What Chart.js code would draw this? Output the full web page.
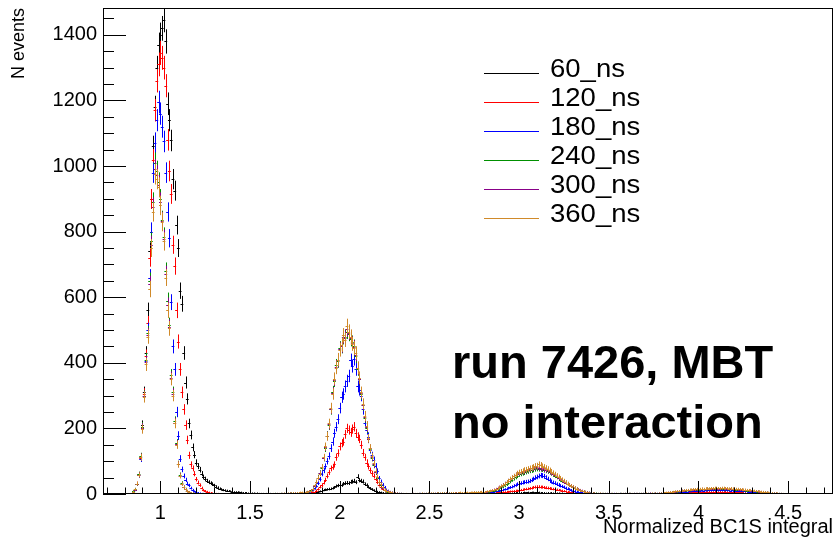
<!DOCTYPE html>
<html>
<head>
<meta charset="utf-8">
<title>BC1S integral</title>
<script src="https://cdn.jsdelivr.net/npm/chart.js@4.4.1/dist/chart.umd.min.js"></script>
<style>
  html, body { margin: 0; padding: 0; background: #fff; }
  #wrap { position: relative; width: 835px; height: 540px; }
  #legend { position: absolute; left: 484px; top: 54px; font: 25px "Liberation Sans", Arial, sans-serif; color: #000; }
  #legend .row { position: relative; height: 29px; line-height: 29px; padding-left: 66px; white-space: nowrap; }
  #legend .row i { position: absolute; left: 0; top: 19px; width: 55px; height: 1px; }
  #legend .row span { display: inline-block; transform: scaleX(1.1); transform-origin: 0 50%; }
  #note { position: absolute; left: 452px; top: 332px; font: bold 47px/60px "Liberation Sans", Arial, sans-serif; color: #000; white-space: nowrap; }
</style>
</head>
<body>
<div id="wrap">
  <canvas id="chart" width="835" height="540" style="width:835px;height:540px"></canvas>
  <div id="legend"></div>
  <div id="note">run 7426, MBT<br>no interaction</div>
</div>
<script>
// histogram bins are 0.01 wide; every series is a list of [first bin centre, counts]
const binWidth = 0.01;

const seriesNames = ['60_ns', '120_ns', '180_ns', '240_ns', '300_ns', '360_ns'];
const seriesColors = ['#000000', '#ff0000', '#0000ff', '#009000', '#880088', '#d08a2a'];

const ns60 = [
  [0.84, [3, 6, 13, 31, 60, 112, 210, 310, 430, 560, 740, 900, 1060, 1180, 1300, 1370, 1400, 1420, 1446, 1380,
          1190, 1140, 1078, 960, 925, 820, 750, 620, 580, 430, 340, 290, 215, 180, 142, 120, 96, 85, 74, 62,
          52, 46, 40, 36, 33, 30, 26, 22, 19, 16, 14, 12, 11, 10, 9, 8, 7]],
  [1.41, [6, 6, 6, 5, 5, 4, 4, 4, 3, 3, 3, 3, 2, 3, 2, 2, 2, 1, 2, 1, 2, 1, 1, 2, 1, 1, 2, 1, 1, 2, 1, 2, 1, 2, 2, 2, 3, 2, 3]],
  [1.80, [3, 2, 3, 3, 4, 4, 4, 5, 6, 8, 10, 12, 13, 14, 15, 16, 18, 20, 24, 26, 28, 27, 31, 33, 34, 33, 37, 38, 40, 36,
          53, 42, 40, 38, 30, 27, 22, 17, 14, 11, 9, 7, 6, 5, 4, 3, 3, 2, 2, 2, 2, 1, 1, 1, 1, 1, 1, 0, 1, 0, 1]],
  [2.41, [1, 0, 1, 1, 0, 1, 1, 0, 1, 1, 0, 1, 1, 1, 0, 1, 1, 1, 2, 1, 0, 1, 1, 1, 0, 1, 1, 0, 1, 1, 1, 0, 1, 1, 1, 1, 1, 2, 1]],
  [2.80, [1, 1, 1, 2, 1, 2, 2, 2, 2, 2, 2, 3, 3, 3, 3, 3, 3, 4, 4, 4, 4, 4, 4, 5, 4, 5, 4, 5, 5, 4,
          5, 5, 4, 4, 4, 3, 4, 3, 4, 3, 3, 3, 3, 2, 3, 2, 2, 2, 2, 2, 1, 2, 1, 1, 1, 1, 1, 1, 0, 1, 1, 0, 1, 0, 0]],
  [3.45, [0, 0, 1, 0, 0, 0, 1, 0, 0, 0, 0, 1, 0, 0, 0, 1, 0, 0, 0, 1, 0, 0, 1, 0, 0, 0, 1, 0, 0, 1, 0, 0, 0, 1, 0]],
  [3.80, [0, 1, 0, 0, 1, 0, 0, 1, 0, 1, 0, 1, 1, 0, 1, 1, 0, 1, 1, 1, 1, 2, 1, 1, 1, 2, 1, 1, 2, 1,
          1, 1, 2, 1, 1, 1, 1, 2, 1, 1, 1, 1, 1, 1, 0, 1, 1, 1, 0, 1, 1, 0, 1, 0, 1, 0, 0, 1, 0, 0, 1, 0, 0, 0, 1]]
];
const ns120 = [
  [0.84, [3, 7, 13, 32, 58, 110, 205, 305, 420, 520, 720, 900, 1020, 1170, 1260, 1310, 1345, 1330, 1300, 1245,
          1080, 985, 915, 760, 695, 560, 465, 380, 310, 258, 210, 165, 118, 90, 78, 62, 45, 35, 27, 18,
          12, 9, 7, 5, 4, 3, 3, 2, 2, 1, 1, 1, 0, 1, 0, 1, 0]],
  [1.41, [1, 1, 1, 0, 1, 1, 0, 1, 0, 1, 0, 0, 1, 0, 1, 0, 0, 1, 0, 1, 0, 1, 1, 0, 1, 0, 1, 1, 0, 1, 1, 1, 1, 2, 1, 2, 2, 2, 2]],
  [1.80, [2, 2, 3, 3, 4, 5, 7, 10, 14, 22, 26, 35, 43, 55, 66, 78, 83, 90, 112, 125, 145, 155, 160, 182, 200, 195, 188, 198, 205, 185,
          175, 168, 150, 126, 112, 96, 84, 72, 63, 55, 46, 36, 28, 20, 15, 11, 8, 6, 4, 3, 3, 2, 2, 1, 1, 1, 1, 0, 1, 0, 1]],
  [2.41, [1, 1, 0, 1, 1, 1, 1, 2, 1, 1, 2, 1, 2, 2, 2, 1, 2, 2, 3, 2, 2, 2, 3, 2, 3, 2, 3, 3, 2, 3, 3, 3, 2, 3, 3, 3, 3, 4, 3]],
  [2.80, [3, 3, 3, 3, 3, 4, 4, 4, 5, 5, 5, 6, 6, 7, 7, 8, 8, 9, 10, 10, 11, 12, 13, 14, 15, 16, 17, 18, 20, 21,
          22, 22, 21, 21, 20, 19, 18, 17, 16, 15, 14, 13, 12, 11, 10, 9, 8, 7, 6, 5, 5, 4, 4, 3, 3, 3, 2, 2, 2, 2, 1, 1, 1, 1, 1]],
  [3.45, [1, 0, 0, 1, 0, 1, 0, 1, 1, 0, 1, 1, 1, 0, 1, 1, 1, 0, 1, 1, 1, 0, 1, 1, 1, 1, 0, 1, 1, 1, 1, 1, 1, 1, 1]],
  [3.80, [1, 1, 1, 2, 2, 2, 2, 3, 3, 3, 3, 4, 4, 4, 4, 5, 5, 5, 5, 5, 6, 5, 6, 6, 6, 6, 7, 6, 6, 7,
          7, 6, 7, 6, 6, 7, 6, 6, 6, 5, 6, 5, 5, 5, 5, 4, 4, 4, 4, 3, 3, 3, 3, 2, 2, 2, 2, 2, 1, 1, 1, 1, 1, 1, 1, 0, 1, 0, 0, 1]]
];
const ns180 = [
  [0.84, [3, 6, 12, 30, 57, 108, 200, 300, 405, 500, 660, 800, 980, 1070, 1140, 1195, 1160, 1120, 1075, 980,
          860, 780, 585, 450, 380, 250, 178, 108, 75, 55, 43, 32, 26, 18, 12, 8, 6, 4, 3, 2,
          2, 1, 1, 0, 1, 0, 1, 0, 0, 1, 0, 0, 1, 0, 0, 0, 1]],
  [1.41, [1, 1, 0, 1, 0, 0, 1, 0, 1, 0, 0, 1, 0, 1, 0, 0, 1, 0, 1, 1, 0, 1, 1, 0, 1, 1, 1, 1, 2, 1, 1, 2, 2, 2, 2, 3, 2, 3, 3]],
  [1.80, [3, 4, 5, 7, 9, 12, 17, 24, 33, 45, 62, 72, 84, 100, 116, 140, 160, 185, 205, 228, 262, 295, 305, 328, 345, 360, 408, 390, 412, 380,
          328, 318, 300, 258, 218, 195, 175, 135, 118, 104, 85, 70, 48, 38, 28, 20, 13, 10, 7, 5, 4, 3, 3, 2, 2, 1, 1, 1, 1, 0, 1]],
  [2.41, [1, 1, 1, 1, 2, 1, 1, 2, 1, 2, 1, 2, 2, 1, 2, 2, 2, 3, 2, 2, 3, 2, 3, 3, 2, 3, 3, 3, 3, 3, 4, 3, 3, 4, 3, 4, 4, 4, 4]],
  [2.80, [4, 4, 5, 5, 6, 6, 7, 8, 9, 10, 11, 13, 14, 16, 18, 20, 22, 25, 27, 30, 32, 33, 35, 36, 37, 38, 40, 43, 46, 50,
          52, 55, 57, 56, 54, 50, 46, 42, 38, 35, 33, 30, 28, 25, 23, 21, 18, 16, 14, 12, 10, 9, 7, 6, 5, 5, 4, 4, 3, 3, 3, 2, 2, 2, 1]],
  [3.45, [2, 1, 1, 1, 2, 1, 1, 1, 2, 1, 1, 2, 1, 1, 2, 1, 2, 1, 1, 2, 1, 1, 2, 1, 2, 2, 1, 2, 2, 1, 2, 2, 2, 2, 2]],
  [3.80, [2, 2, 3, 3, 3, 4, 4, 5, 5, 5, 6, 6, 7, 7, 7, 8, 8, 9, 9, 10, 10, 10, 11, 10, 11, 11, 12, 11, 12, 12,
          12, 11, 12, 12, 11, 12, 11, 11, 10, 11, 10, 10, 10, 9, 9, 8, 8, 8, 7, 7, 6, 6, 5, 5, 5, 4, 4, 3, 3, 3, 2, 2, 2, 2, 1, 1, 1, 1, 1, 0, 1]]
];
const ns240 = [
  [0.84, [2, 8, 15, 30, 60, 115, 205, 300, 410, 490, 650, 770, 890, 1010, 985, 950, 900, 835, 785, 680,
          590, 515, 362, 310, 222, 155, 92, 58, 33, 22, 15, 9, 6, 4, 3, 2, 1, 1, 1, 0,
          0, 1, 0, 0, 1, 0, 0, 0, 1, 0, 0, 0, 1, 0, 0, 0, 0]],
  [1.41, [0, 1, 0, 0, 1, 0, 0, 1, 0, 1, 0, 1, 0, 1, 1, 0, 1, 1, 1, 0, 1, 1, 1, 2, 1, 1, 2, 1, 2, 2, 2, 2, 3, 2, 3, 3, 3, 4, 4]],
  [1.80, [4, 5, 7, 8, 11, 16, 24, 36, 50, 64, 80, 110, 140, 178, 210, 258, 312, 345, 392, 405, 445, 450, 478, 480, 495, 488, 472, 462, 450, 420,
          380, 350, 305, 270, 232, 200, 168, 138, 110, 88, 66, 50, 36, 28, 19, 13, 10, 7, 6, 4, 4, 3, 2, 2, 2, 1, 1, 1, 1, 1, 1]],
  [2.41, [1, 1, 1, 2, 1, 2, 1, 2, 2, 1, 2, 2, 2, 2, 3, 2, 2, 3, 2, 3, 3, 3, 3, 2, 3, 3, 4, 3, 3, 4, 4, 3, 4, 4, 4, 5, 4, 5, 5]],
  [2.80, [5, 5, 6, 7, 8, 9, 10, 12, 14, 17, 20, 23, 26, 30, 34, 39, 44, 48, 52, 56, 60, 62, 64, 66, 68, 70, 72, 73, 75, 77,
          78, 77, 77, 76, 74, 72, 70, 67, 64, 60, 56, 52, 48, 44, 41, 37, 34, 30, 27, 24, 21, 18, 16, 13, 11, 9, 8, 7, 6, 5, 4, 4, 3, 3, 2]],
  [3.45, [2, 1, 2, 2, 1, 2, 1, 2, 1, 2, 1, 2, 2, 1, 2, 1, 2, 2, 1, 2, 2, 1, 2, 2, 2, 2, 1, 2, 2, 2, 2, 3, 2, 2, 3]],
  [3.80, [3, 3, 4, 4, 5, 5, 6, 7, 7, 8, 8, 9, 10, 10, 11, 11, 12, 12, 13, 13, 13, 14, 14, 14, 15, 15, 15, 16, 15, 16,
          16, 15, 16, 16, 15, 15, 15, 14, 15, 14, 14, 13, 13, 12, 12, 11, 11, 10, 10, 9, 9, 8, 8, 7, 7, 6, 6, 5, 5, 4, 4, 3, 3, 3, 2, 2, 2, 1, 1, 1, 1]]
];
const ns300 = [
  [0.84, [3, 7, 13, 31, 59, 113, 202, 298, 402, 485, 640, 760, 875, 990, 972, 942, 890, 832, 778, 670,
          575, 510, 355, 305, 218, 152, 91, 56, 31, 21, 14, 9, 6, 4, 3, 2, 1, 1, 0, 1,
          0, 0, 1, 0, 0, 0, 1, 0, 0, 0, 1, 0, 0, 0, 0, 1, 0]],
  [1.41, [1, 0, 0, 1, 0, 1, 0, 0, 1, 0, 1, 1, 0, 1, 0, 1, 1, 0, 1, 1, 1, 0, 1, 1, 2, 1, 1, 2, 1, 2, 2, 3, 2, 2, 3, 3, 4, 3, 4]],
  [1.80, [4, 5, 6, 9, 10, 15, 25, 37, 49, 63, 81, 111, 143, 177, 212, 260, 308, 348, 388, 408, 442, 452, 480, 476, 502, 492, 476, 460, 448, 425,
          383, 352, 308, 272, 235, 204, 169, 139, 112, 90, 68, 51, 37, 29, 19, 13, 10, 8, 6, 5, 4, 3, 3, 2, 2, 1, 1, 1, 1, 1, 1]],
  [2.41, [2, 1, 1, 2, 1, 2, 2, 1, 2, 2, 2, 1, 2, 3, 2, 2, 3, 2, 3, 3, 2, 3, 3, 3, 4, 3, 3, 4, 3, 4, 4, 4, 3, 4, 5, 4, 5, 5, 6]],
  [2.80, [6, 6, 7, 8, 9, 11, 13, 15, 18, 21, 24, 28, 32, 36, 40, 45, 50, 54, 58, 62, 64, 66, 68, 70, 72, 74, 76, 78, 80, 81,
          82, 80, 80, 78, 76, 74, 72, 69, 65, 62, 58, 54, 50, 46, 42, 38, 35, 31, 28, 25, 22, 19, 16, 14, 12, 10, 8, 7, 6, 5, 4, 3, 3, 2, 2]],
  [3.45, [2, 2, 1, 2, 2, 1, 2, 1, 2, 2, 1, 2, 1, 2, 2, 1, 2, 2, 1, 2, 2, 2, 1, 2, 2, 2, 2, 2, 3, 2, 2, 3, 2, 3, 3]],
  [3.80, [3, 3, 4, 5, 5, 6, 6, 7, 8, 8, 9, 10, 10, 11, 11, 12, 12, 13, 13, 14, 14, 14, 15, 14, 15, 16, 15, 16, 16, 17,
          17, 16, 16, 17, 17, 16, 16, 15, 16, 15, 15, 14, 14, 13, 13, 12, 12, 11, 11, 10, 10, 9, 8, 8, 7, 7, 6, 5, 5, 4, 4, 3, 3, 3, 2, 2, 2, 1, 1, 1, 1]]
];
const ns360 = [
  [0.84, [3, 7, 14, 32, 58, 112, 198, 296, 395, 480, 625, 750, 860, 975, 960, 935, 880, 830, 770, 660,
          560, 505, 350, 300, 215, 150, 90, 55, 30, 22, 14, 10, 6, 4, 3, 2, 2, 1, 1, 0,
          1, 0, 0, 0, 1, 0, 0, 1, 0, 0, 0, 0, 1, 0, 0, 0, 0]],
  [1.41, [0, 1, 1, 0, 1, 0, 1, 1, 0, 1, 1, 0, 1, 1, 1, 0, 1, 1, 1, 2, 1, 1, 2, 1, 2, 2, 2, 2, 3, 2, 3, 3, 3, 4, 3, 4, 4, 5, 5]],
  [1.80, [4, 5, 6, 8, 10, 15, 26, 38, 48, 62, 82, 112, 145, 176, 215, 262, 305, 352, 385, 410, 440, 455, 484, 470, 512, 495, 480, 458, 445, 430,
          385, 355, 310, 275, 238, 208, 170, 140, 115, 94, 70, 52, 38, 30, 20, 13, 10, 8, 6, 5, 4, 3, 3, 2, 2, 2, 1, 2, 1, 1, 1]],
  [2.41, [2, 2, 2, 1, 2, 3, 2, 2, 3, 2, 3, 3, 2, 3, 3, 3, 4, 3, 3, 4, 3, 4, 4, 4, 3, 4, 5, 4, 4, 5, 5, 4, 5, 5, 6, 5, 6, 6, 7]],
  [2.80, [7, 6, 8, 9, 10, 11, 12, 14, 16, 20, 24, 27, 30, 36, 40, 46, 50, 54, 58, 63, 66, 68, 70, 73, 74, 76, 78, 80, 82, 85,
          86, 90, 88, 84, 82, 79, 76, 72, 68, 64, 60, 56, 52, 48, 44, 40, 36, 32, 28, 25, 22, 19, 16, 13, 11, 9, 8, 6, 5, 4, 4, 3, 3, 2, 2]],
  [3.45, [3, 2, 2, 2, 2, 1, 2, 2, 1, 2, 2, 1, 2, 2, 2, 1, 2, 2, 2, 2, 1, 2, 2, 2, 2, 2, 3, 2, 2, 3, 2, 3, 2, 3, 3]],
  [3.80, [3, 4, 5, 5, 6, 6, 7, 8, 8, 9, 10, 10, 11, 12, 12, 13, 13, 14, 14, 15, 15, 15, 16, 15, 16, 17, 16, 17, 17, 18,
          18, 17, 17, 18, 18, 17, 17, 16, 17, 16, 16, 15, 15, 14, 14, 13, 13, 12, 12, 11, 11, 10, 9, 8, 8, 7, 7, 6, 5, 5, 4, 4, 3, 3, 3, 2, 2, 2, 1, 1, 1]]
];

const xTicks = [1, 1.5, 2, 2.5, 3, 3.5, 4, 4.5];
const yTicks = [0, 200, 400, 600, 800, 1000, 1200, 1400];

const seriesValues = [ns60, ns120, ns180, ns240, ns300, ns360];
const fontFamily = '"Liberation Sans", Arial, Helvetica, sans-serif';

function toPoints(segments) {
    const pts = [];
    segments.forEach(([start, counts]) => {
        counts.forEach((v, i) => {
            if (v > 0) pts.push({ x: Math.round((start + i * binWidth) * 1000) / 1000, y: v });
        });
    });
    return pts;
}

const datasets = seriesNames.map((name, i) => ({
    label: name,
    data: toPoints(seriesValues[i]),
    borderColor: seriesColors[i],
    backgroundColor: seriesColors[i],
    pointRadius: 0,
    showLine: false
}));

// ROOT style error bars: sqrt(N) vertical, bin width horizontal
const errorBars = {
    id: 'errorBars',
    afterDatasetsDraw(chart) {
        const { ctx, chartArea: a, scales: { x, y } } = chart;
        ctx.save();
        ctx.beginPath();
        ctx.rect(a.left, a.top, a.width, a.height);
        ctx.clip();
        ctx.lineWidth = 1;
        chart.data.datasets.forEach(ds => {
            ctx.strokeStyle = ds.borderColor;
            ctx.beginPath();
            ds.data.forEach(p => {
                const err = Math.sqrt(p.y);
                const px = Math.round(x.getPixelForValue(p.x)) + 0.5;
                const py = Math.round(y.getPixelForValue(p.y)) + 0.5;
                ctx.moveTo(px, y.getPixelForValue(p.y + err));
                ctx.lineTo(px, y.getPixelForValue(p.y - err));
                ctx.moveTo(x.getPixelForValue(p.x - binWidth / 2) - 0.5, py);
                ctx.lineTo(x.getPixelForValue(p.x + binWidth / 2) + 0.5, py);
            });
            ctx.stroke();
        });
        ctx.restore();
    }
};

// frame with inward ticks like a ROOT pad
const rootFrame = {
    id: 'rootFrame',
    afterDraw(chart) {
        const { ctx, chartArea: a, scales: { x, y } } = chart;
        ctx.save();
        ctx.strokeStyle = '#000';
        ctx.lineWidth = 1;
        ctx.strokeRect(a.left + 0.5, a.top + 0.5, a.width - 1, a.height - 1);
        ctx.beginPath();
        for (let k = 7; k <= 47; k++) {
            const px = Math.round(x.getPixelForValue(k / 10)) + 0.5;
            const len = k % 5 === 0 ? 13 : 6.5;
            ctx.moveTo(px, a.bottom);
            ctx.lineTo(px, a.bottom - len);
        }
        for (let k = 0; k <= 29; k++) {
            const py = Math.round(y.getPixelForValue(k * 50)) + 0.5;
            const len = k % 4 === 0 ? 23 : 11;
            ctx.moveTo(a.left, py);
            ctx.lineTo(a.left + len, py);
        }
        ctx.stroke();
        ctx.restore();
    }
};

new Chart(document.getElementById('chart'), {
    type: 'scatter',
    data: { datasets },
    options: {
        responsive: false,
        animation: false,
        events: [],
        layout: { padding: { top: 8, right: 2, left: 0, bottom: 0 } },
        plugins: {
            legend: { display: false },
            tooltip: { enabled: false }
        },
        scales: {
            x: {
                type: 'linear',
                min: 0.68,
                max: 4.75,
                afterFit: s => { s.height = 46; s.paddingLeft = 0; s.paddingRight = 0; },
                afterBuildTicks: s => { s.ticks = xTicks.map(v => ({ value: v })); },
                grid: { display: false, drawTicks: false },
                border: { display: false },
                ticks: {
                    color: '#000',
                    font: { family: fontFamily, size: 20 },
                    padding: 7,
                    maxRotation: 0,
                    autoSkip: false,
                    callback: v => String(v)
                },
                title: {
                    display: true,
                    text: 'Normalized BC1S integral',
                    align: 'end',
                    color: '#000',
                    font: { family: fontFamily, size: 20 },
                    padding: { top: 0, bottom: 1 }
                }
            },
            y: {
                type: 'linear',
                min: 0,
                max: 1482,
                afterFit: s => { s.width = 103; s.paddingTop = 0; s.paddingBottom = 0; },
                afterBuildTicks: s => { s.ticks = yTicks.map(v => ({ value: v })); },
                grid: { display: false, drawTicks: false },
                border: { display: false },
                ticks: {
                    color: '#000',
                    font: { family: fontFamily, size: 20 },
                    padding: 6,
                    autoSkip: false,
                    callback: v => String(v)
                },
                title: {
                    display: true,
                    text: 'N events',
                    align: 'end',
                    color: '#000',
                    font: { family: fontFamily, size: 18 },
                    padding: { top: 8, bottom: 0 }
                }
            }
        }
    },
    plugins: [errorBars, rootFrame]
});

// legend box, ROOT TLegend look
const legendEl = document.getElementById('legend');
seriesNames.forEach((name, i) => {
    const row = document.createElement('div');
    row.className = 'row';
    const mark = document.createElement('i');
    mark.style.background = seriesColors[i];
    row.appendChild(mark);
    const label = document.createElement('span');
    label.textContent = name;
    row.appendChild(label);
    legendEl.appendChild(row);
});
</script>
</body>
</html>
